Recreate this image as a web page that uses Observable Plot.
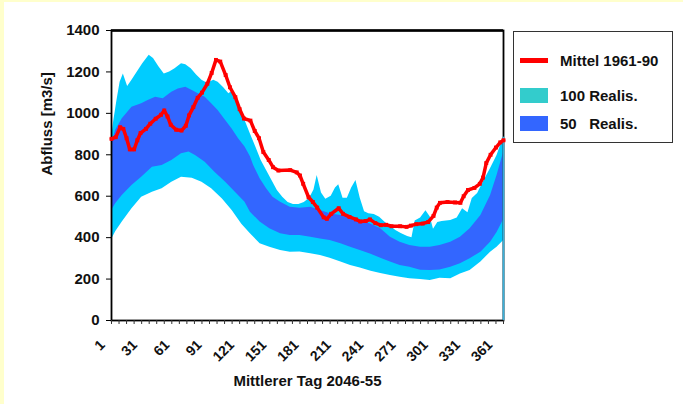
<!DOCTYPE html>
<html><head><meta charset="utf-8">
<script src="https://cdn.jsdelivr.net/npm/d3@7"></script>
<script src="https://cdn.jsdelivr.net/npm/@observablehq/plot@0.6"></script>
<style>
body{margin:0;background:#fff;font-family:"Liberation Sans",Arial,sans-serif;}
#wrap{position:relative;width:683px;height:404px;overflow:hidden;background:#fff}
.strip{position:absolute;background:#FFFFCC}
#legend{position:absolute;left:513px;top:31px;width:160px;height:112px;border:1.5px solid #333;box-sizing:border-box;font-weight:bold;font-size:15px;color:#111;background:#fff}
.row{position:absolute;left:6px;height:16px;display:flex;align-items:center}
.sw{width:28px;margin-right:12px}
</style></head>
<body>
<div id="wrap">
  <div id="chart"></div>
  <div class="strip" style="left:0;top:0;width:683px;height:2px"></div>
  <div class="strip" style="left:0;top:0;width:4px;height:404px"></div>
  <div id="legend"></div>
</div>
<script>
// ---- data ----
const seriesNames = ["Mittel 1961-90", "100 Realis.", "50   Realis."];
const yTitle = "Abfluss [m3/s]";
const xTitle = "Mittlerer Tag 2046-55";
const yTicks = [0, 200, 400, 600, 800, 1000, 1200, 1400];
const xLabelDays = [1, 31, 61, 91, 121, 151, 181, 211, 241, 271, 301, 331, 361];
const xMinorTicks = [1,8,15,22,29,36,43,50,57,64,71,78,85,92,99,106,113,120,127,134,141,148,155,162,169,176,183,190,197,204,211,218,225,232,239,246,253,260,267,274,281,288,295,302,309,316,323,330,337,344,351,358,365];

// outer band (100 realisations) upper edge
const dayU100 = [1,3,6,9,12,16,20,25,30,36,40,45,50,55,60,66,70,75,80,85,90,96,100,105,110,114,116,120,125,130,135,140,145,150,155,160,165,170,175,180,185,189,192,196,200,205,209,212,216,220,224,228,232,236,240,245,250,255,260,265,270,276,280,283,288,293,297,300,304,308,316,322,327,332,336,341,346,353,359,365];
const valU100 = [880,960,1060,1150,1190,1130,1160,1200,1240,1280,1265,1225,1190,1200,1215,1240,1235,1215,1185,1160,1145,1160,1150,1125,1095,1110,1080,1030,965,900,838,773,724,676,627,595,570,560,560,570,590,630,700,615,585,600,640,655,590,590,640,676,590,525,515,512,498,474,455,435,420,405,400,480,495,530,500,440,473,478,483,495,540,520,589,613,666,734,797,885];
// inner band (50 realisations) upper edge
const dayU50 = [1,5,11,20,29,35,42,49,57,63,70,76,82,88,94,100,107,113,119,125,130,133,139,145,151,158,167,176,186,195,204,214,223,232,242,251,260,269,278,288,297,306,316,325,334,344,353,359,365];
const valU50 = [850,920,974,1030,1046,1062,1078,1070,1102,1118,1126,1110,1094,1078,1046,1014,966,925,877,837,790,748,684,636,595,571,547,542,547,531,515,507,499,483,465,443,402,378,362,354,354,362,378,402,443,507,603,700,810];
// inner band lower edge
const dayL50 = [1,5,11,20,29,39,48,57,66,73,79,88,97,107,116,125,130,139,148,158,167,176,186,195,204,214,223,232,242,251,260,269,278,288,297,306,316,325,334,344,353,359,365];
const valL50 = [530,565,603,652,692,740,748,772,805,813,797,764,716,668,619,571,523,475,443,419,410,410,402,394,386,370,354,338,320,300,282,266,257,243,241,244,257,274,298,330,378,425,485];
// outer band lower edge
const dayL100 = [1,5,11,20,29,39,48,57,66,76,85,94,104,113,122,130,139,148,158,167,176,186,195,204,214,223,232,242,251,260,269,278,288,297,306,316,325,334,344,353,359,365];
const valL100 = [390,430,475,539,595,619,636,668,692,687,668,636,587,531,465,419,370,354,338,330,331,322,314,301,282,266,253,238,227,217,209,201,198,193,204,201,225,241,282,330,354,385];
// mean 1961-90
const dayMittel = [1,5,9,12,15,18,22,25,28,33,37,42,47,50,53,56,61,66,70,73,77,81,85,90,94,98,102,107,111,116,120,124,130,134,138,142,147,151,156,167,173,176,179,184,188,192,198,201,205,212,216,222,228,232,237,241,246,251,256,261,269,275,279,284,290,295,300,303,306,313,320,325,328,332,338,343,346,349,353,358,362,365];
const valMittel = [877,885,933,925,880,826,826,870,905,925,950,974,993,1014,985,945,921,917,940,990,1030,1075,1100,1143,1195,1258,1250,1185,1126,1078,1020,975,965,915,880,813,775,740,724,726,715,700,660,595,572,545,498,491,515,542,515,500,488,478,480,488,470,460,462,455,455,452,458,465,468,475,505,545,568,572,570,568,600,630,640,660,690,760,800,835,860,870];

const colors = {mittel: "#FF0000", r100: "#00CCFF", r100legend: "#33CCCC", r50: "#3366FF"};

const rows = (d, v) => d.map((x, i) => ({x, y: v[i]}));
const font = "'Liberation Sans', Arial, sans-serif";

const chart = Plot.plot({
  width: 683, height: 404,
  marginLeft: 111, marginRight: 180, marginTop: 30, marginBottom: 84,
  x: {domain: [1, 365]},
  y: {domain: [0, 1400]},
  style: {fontFamily: font, fontWeight: "bold", background: "transparent", color: "#111", overflow: "visible"},
  marks: [
    Plot.areaY(rows(dayU100, valU100), {x: "x", y: "y", fill: colors.r100}),
    Plot.areaY(rows(dayU50, valU50), {x: "x", y: "y", fill: colors.r50}),
    Plot.areaY(rows(dayL50, valL50), {x: "x", y: "y", fill: colors.r100}),
    Plot.areaY(rows(dayL100, valL100), {x: "x", y: "y", fill: "#FFFFFF"}),
    Plot.frame({stroke: "#000", strokeWidth: 1.8}),
    Plot.ruleY([1400], {stroke: "#000", strokeWidth: 2.5}),
    Plot.ruleX([365], {y1: 0, y2: valU100[valU100.length - 1], stroke: "#3BB0DA", strokeWidth: 1.8}),
    Plot.line(rows(dayMittel, valMittel), {x: "x", y: "y", stroke: colors.mittel, strokeWidth: 3.5}),
    Plot.dot(rows(dayMittel, valMittel), {x: "x", y: "y", symbol: "square", r: 2.2, fill: colors.mittel}),
    Plot.axisY({ticks: yTicks, tickSize: 5, tickPadding: 7, fontSize: 15, tickFormat: d3.format("d"), label: null, stroke: "#000"}),
    Plot.axisX({ticks: xMinorTicks, tickSize: 4, tickFormat: () => "", label: null, stroke: "#333"}),
    Plot.axisX({ticks: xLabelDays, tickSize: 0, tickRotate: -45, tickPadding: 22, dx: -9, fontSize: 14, tickFormat: d3.format("d"), label: null}),
    Plot.text([yTitle], {frameAnchor: "left", dx: -64, rotate: -90, fontSize: 15, fontWeight: "bold"}),
    Plot.text([xTitle], {frameAnchor: "bottom", dy: 65, fontSize: 15, fontWeight: "bold"})
  ]
});
document.getElementById("chart").appendChild(chart);

// legend
const legend = document.getElementById("legend");
const items = [
  {name: seriesNames[0], kind: "line", color: colors.mittel, top: 20},
  {name: seriesNames[1], kind: "box", color: colors.r100legend, top: 55},
  {name: seriesNames[2], kind: "box", color: colors.r50, top: 83}
];
for (const it of items) {
  const row = document.createElement("div");
  row.className = "row";
  row.style.top = it.top + "px";
  const sw = document.createElement("div");
  sw.className = "sw";
  if (it.kind === "line") { sw.style.height = "5px"; sw.style.background = it.color; }
  else { sw.style.height = "15px"; sw.style.background = it.color; }
  const tx = document.createElement("span");
  tx.style.whiteSpace = "pre";
  tx.textContent = it.name;
  row.appendChild(sw); row.appendChild(tx);
  legend.appendChild(row);
}
</script>
</body></html>
